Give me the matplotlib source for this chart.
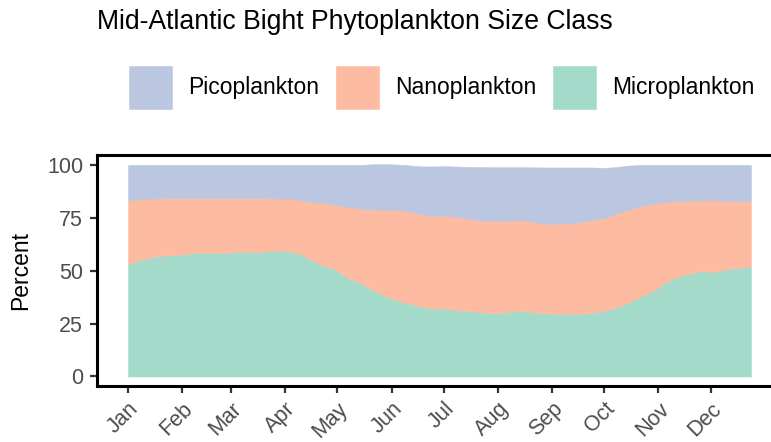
import matplotlib.pyplot as plt
import numpy as np

plt.rcParams['font.family'] = ['Liberation Sans', 'DejaVu Sans']

# weekly climatology, day of year for each week start
days = np.arange(0, 358, 7)

micro = [53.2, 55.0, 56.5, 57.2, 57.5, 58.0, 58.6, 58.2, 58.5, 59.0,
         58.9, 58.8, 59.5, 59.4, 58.2, 55.0, 52.5, 50.5, 46.5, 44.2,
         41.0, 38.2, 36.0, 34.5, 33.0, 32.2, 32.1, 31.3, 30.8, 30.3,
         30.0, 30.3, 31.1, 30.5, 29.9, 29.6, 29.6, 29.6, 30.2, 31.0,
         32.5, 35.0, 37.8, 40.5, 44.5, 47.2, 48.6, 49.8, 49.3, 50.7,
         51.3, 52.0]
nano = [30.1, 28.8, 27.6, 27.1, 26.8, 26.3, 25.7, 26.1, 25.8, 25.3,
        25.4, 25.5, 24.7, 24.6, 25.3, 27.5, 29.5, 30.8, 33.5, 35.2,
        38.0, 40.6, 42.7, 43.5, 43.6, 43.9, 43.8, 44.0, 43.7, 43.5,
        43.4, 43.3, 42.8, 42.8, 42.4, 42.4, 42.8, 43.4, 43.8, 43.9,
        44.5, 44.0, 42.7, 41.2, 37.9, 35.6, 34.6, 33.4, 34.0, 32.2,
        31.5, 30.8]
pico = [16.7, 16.2, 15.9, 15.7, 15.7, 15.7, 15.7, 15.7, 15.7, 15.7,
        15.7, 15.7, 15.8, 16.0, 16.5, 17.5, 18.0, 18.7, 20.0, 20.6,
        21.3, 21.6, 21.5, 21.8, 22.7, 23.2, 23.5, 23.9, 24.5, 25.2,
        25.5, 25.3, 25.0, 25.6, 26.5, 26.8, 26.4, 25.8, 24.8, 23.7,
        22.0, 20.7, 19.5, 18.3, 17.6, 17.2, 16.8, 16.8, 16.7, 17.1,
        17.2, 17.2]

month_starts = [0, 31, 59, 90, 120, 151, 181, 212, 243, 273, 304, 334]
month_labels = ['Jan', 'Feb', 'Mar', 'Apr', 'May', 'Jun',
                'Jul', 'Aug', 'Sep', 'Oct', 'Nov', 'Dec']
y_ticks = [0, 25, 50, 75, 100]

# Set2 at 60% opacity over white
c_micro = '#a3dac9'
c_nano = '#fdbba1'
c_pico = '#bbc6e0'

fig = plt.figure(figsize=(7.71, 4.42), dpi=100)
ax = fig.add_axes([97 / 771, 56 / 442, 685 / 771, 231 / 442])

polys = ax.stackplot(days, micro, nano, pico,
                     colors=[c_micro, c_nano, c_pico],
                     edgecolor='face', linewidth=0.4)

ax.set_xlim(-17.85, 374.85)
ax.set_ylim(-4.5, 104.7)
ax.set_xticks(month_starts)
ax.set_xticklabels(month_labels, rotation=45, ha='right',
                   rotation_mode='anchor')
ax.set_yticks(y_ticks)
ax.tick_params(axis='both', labelsize=15.5, labelcolor='#4d4d4d',
               color='#333333', width=1.6, length=5, pad=5)
ax.tick_params(axis='x', pad=4)
ax.set_ylabel('Percent', fontsize=16.5, labelpad=11)

for side in ax.spines.values():
    side.set_linewidth(2.2)
    side.set_color('black')

fig.text(97 / 771, 1 - 29 / 442, 'Mid-Atlantic Bight Phytoplankton Size Class',
         fontsize=19.2, va='baseline', ha='left')

fig.legend([polys[2], polys[1], polys[0]],
           ['Picoplankton', 'Nanoplankton', 'Microplankton'],
           loc='upper left', bbox_to_anchor=(129 / 771, 1 - 66 / 442),
           ncol=3, frameon=False, fontsize=16.5,
           handlelength=1.87, handleheight=2.48, handletextpad=0.72,
           columnspacing=0.72, borderpad=0, borderaxespad=0)

fig.savefig('out.png', dpi=100)
